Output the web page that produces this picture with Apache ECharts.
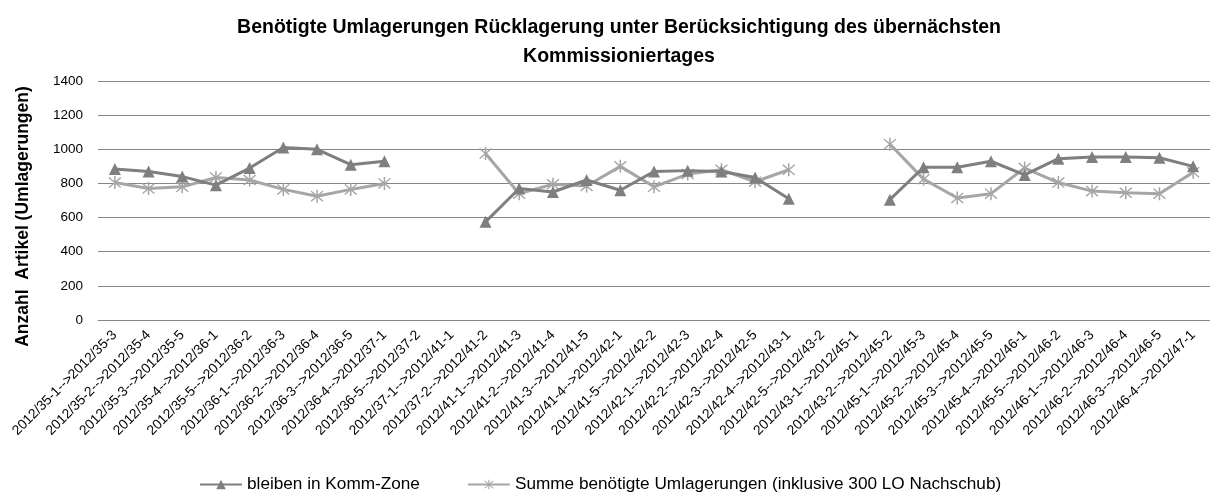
<!DOCTYPE html>
<html>
<head>
<meta charset="utf-8">
<script src="https://cdn.jsdelivr.net/npm/echarts@6/dist/echarts.min.js"></script>
<style>
  html, body { margin: 0; padding: 0; background: #fff; }
  #chart { width: 1210px; height: 494px; }
</style>
</head>
<body>
<div id="chart"></div>
<script>
var categories = [
    '2012/35-1-->2012/35-3', '2012/35-2-->2012/35-4', '2012/35-3-->2012/35-5',
    '2012/35-4-->2012/36-1', '2012/35-5-->2012/36-2', '2012/36-1-->2012/36-3',
    '2012/36-2-->2012/36-4', '2012/36-3-->2012/36-5', '2012/36-4-->2012/37-1',
    '2012/36-5-->2012/37-2', '2012/37-1-->2012/41-1', '2012/37-2-->2012/41-2',
    '2012/41-1-->2012/41-3', '2012/41-2-->2012/41-4', '2012/41-3-->2012/41-5',
    '2012/41-4-->2012/42-1', '2012/41-5-->2012/42-2', '2012/42-1-->2012/42-3',
    '2012/42-2-->2012/42-4', '2012/42-3-->2012/42-5', '2012/42-4-->2012/43-1',
    '2012/42-5-->2012/43-2', '2012/43-1-->2012/45-1', '2012/43-2-->2012/45-2',
    '2012/45-1-->2012/45-3', '2012/45-2-->2012/45-4', '2012/45-3-->2012/45-5',
    '2012/45-4-->2012/46-1', '2012/45-5-->2012/46-2', '2012/46-1-->2012/46-3',
    '2012/46-2-->2012/46-4', '2012/46-3-->2012/46-5', '2012/46-4-->2012/47-1'
];
// '-' = no value (gap in the line)
var bleiben = [
    885, 870, 840, 790, 890, 1010, 1000, 910, 930, '-', '-',
    575, 770, 750, 820, 760, 870, 875, 870, 835, 710, '-', '-',
    705, 895, 895, 930, 850, 945, 955, 955, 950, 900
];
var summe = [
    805, 770, 780, 835, 820, 765, 725, 765, 800, '-', '-',
    975, 740, 795, 785, 900, 780, 855, 880, 810, 880, '-', '-',
    1030, 825, 715, 740, 890, 805, 755, 745, 740, 865
];
var yTicks = { min: 0, max: 1400, step: 200 };

var fontFam = '"Liberation Sans", Arial, sans-serif';
var asterisk = 'path://M9,0L11,0L11,20L9,20Z M1.5,2.9L2.9,1.5L18.5,17.1L17.1,18.5Z M17.1,1.5L18.5,2.9L2.9,18.5L1.5,17.1Z';

var myChart = echarts.init(document.getElementById('chart'));
var option = {
    backgroundColor: '#fff',
    animation: false,
    title: {
        text: 'Benötigte Umlagerungen Rücklagerung unter Berücksichtigung des übernächsten\nKommissioniertages',
        left: 614,
        top: 8,
        textAlign: 'center',
        textStyle: {
            fontFamily: fontFam,
            fontSize: 19.5,
            fontWeight: 'bold',
            color: '#000',
            lineHeight: 29
        }
    },
    legend: {
        bottom: -4,
        left: 194,
        itemWidth: 42,
        itemHeight: 12,
        itemGap: 47,
        textStyle: { fontFamily: fontFam, fontSize: 17.2, color: '#000' },
        data: ['bleiben in Komm-Zone', 'Summe benötigte Umlagerungen (inklusive 300 LO Nachschub)']
    },
    grid: {
        left: 98,
        right: -10,
        top: 81,
        bottom: 174
    },
    xAxis: {
        type: 'category',
        data: categories,
        boundaryGap: true,
        axisLine: { lineStyle: { color: '#868686' } },
        axisTick: { show: false },
        axisLabel: {
            rotate: 45,
            interval: 0,
            margin: 13,
            fontFamily: fontFam,
            fontSize: 13.8,
            color: '#000'
        }
    },
    yAxis: {
        type: 'value',
        min: yTicks.min,
        max: yTicks.max,
        interval: yTicks.step,
        name: 'Anzahl  Artikel (Umlagerungen)',
        nameLocation: 'middle',
        nameRotate: 90,
        nameGap: 66,
        nameTextStyle: {
            fontFamily: fontFam,
            fontSize: 17.5,
            fontWeight: 'bold',
            color: '#000',
            padding: [0, 32, 0, 0]
        },
        axisLine: { show: false },
        axisTick: { show: false },
        axisLabel: {
            fontFamily: fontFam,
            fontSize: 13.5,
            color: '#000',
            margin: 15,
            formatter: function (v) { return String(v); }
        },
        splitLine: { lineStyle: { color: '#868686', width: 1 } }
    },
    series: [{
        name: 'bleiben in Komm-Zone',
        type: 'line',
        data: bleiben,
        symbol: 'triangle',
        symbolSize: 12,
        connectNulls: false,
        lineStyle: { color: '#7f7f7f', width: 3 },
        itemStyle: { color: '#7f7f7f' },
        z: 3
    }, {
        name: 'Summe benötigte Umlagerungen (inklusive 300 LO Nachschub)',
        type: 'line',
        data: summe,
        symbol: asterisk,
        symbolSize: 13,
        connectNulls: false,
        lineStyle: { color: '#a6a6a6', width: 3 },
        itemStyle: { color: '#a6a6a6' },
        z: 2
    }]
};
myChart.setOption(option);
</script>
</body>
</html>
